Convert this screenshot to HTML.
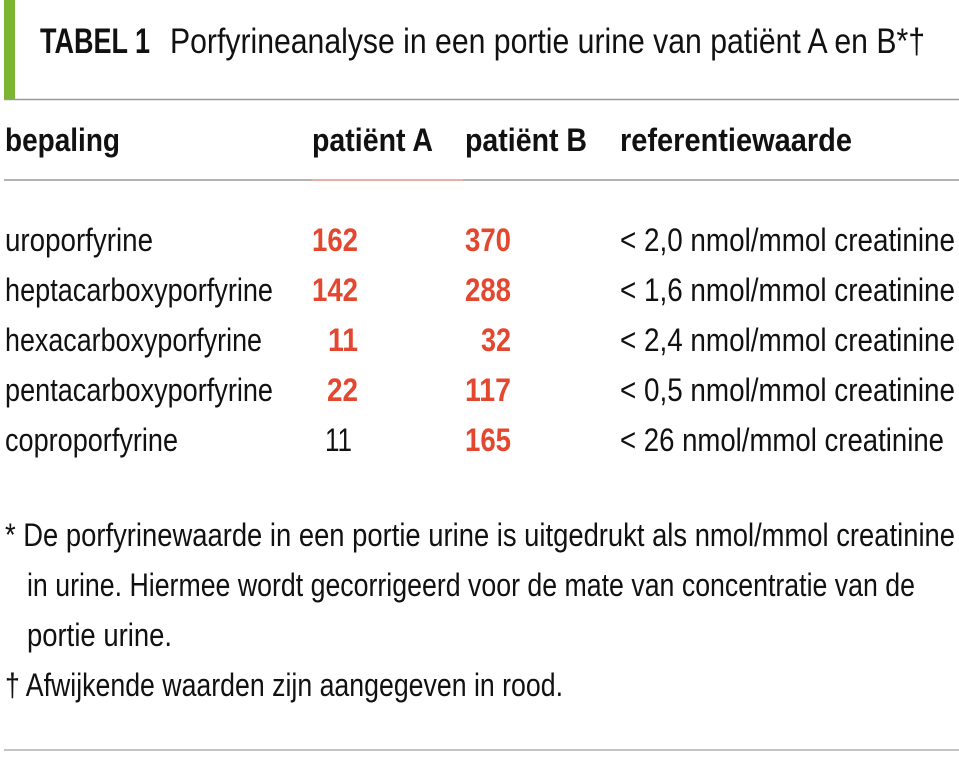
<!DOCTYPE html>
<html><head><meta charset="utf-8"><style>
html,body{margin:0;padding:0;background:#fff;width:959px;height:764px;overflow:hidden}
svg{display:block}
text{font-family:"Liberation Sans Narrow","Liberation Sans",sans-serif;font-size:32px;fill:#111}
.b{font-weight:bold}
.r{fill:#e4472f;font-weight:bold}
</style></head><body>
<svg width="959" height="764" viewBox="0 0 959 764" xmlns="http://www.w3.org/2000/svg">
<rect x="4" y="0" width="11" height="100" fill="#7cb531"/>
<line x1="4" y1="99.5" x2="959" y2="99.5" stroke="#9a9a9a" stroke-width="1.5"/>
<line x1="4" y1="180" x2="959" y2="180" stroke="#9a9a9a" stroke-width="1.5"/>
<line x1="312" y1="180" x2="463" y2="180" stroke="#f3a39a" stroke-width="1.5"/>
<line x1="4" y1="750" x2="959" y2="750" stroke="#b0b0b0" stroke-width="1.5"/>
<text x="40" y="53" class="b" style="font-size:35px" textLength="110" lengthAdjust="spacingAndGlyphs">TABEL 1</text>
<text x="170" y="53" style="font-size:35px" textLength="755" lengthAdjust="spacingAndGlyphs">Porfyrineanalyse in een portie urine van patiënt A en B*†</text>
<text x="5" y="151" class="b" textLength="115" lengthAdjust="spacingAndGlyphs">bepaling</text>
<text x="312" y="151" class="b" textLength="121" lengthAdjust="spacingAndGlyphs">patiënt A</text>
<text x="465" y="151" class="b" textLength="122" lengthAdjust="spacingAndGlyphs">patiënt B</text>
<text x="620" y="151" class="b" textLength="232" lengthAdjust="spacingAndGlyphs">referentiewaarde</text>

<text x="5" y="251" textLength="148" lengthAdjust="spacingAndGlyphs">uroporfyrine</text>
<text x="5" y="301" textLength="268" lengthAdjust="spacingAndGlyphs">heptacarboxyporfyrine</text>
<text x="5" y="351" textLength="257" lengthAdjust="spacingAndGlyphs">hexacarboxyporfyrine</text>
<text x="5" y="401" textLength="268" lengthAdjust="spacingAndGlyphs">pentacarboxyporfyrine</text>
<text x="5" y="451" textLength="173" lengthAdjust="spacingAndGlyphs">coproporfyrine</text>

<text x="312" y="251" class="r" textLength="46" lengthAdjust="spacingAndGlyphs">162</text>
<text x="312" y="301" class="r" textLength="46" lengthAdjust="spacingAndGlyphs">142</text>
<text x="328" y="351" class="r" textLength="30" lengthAdjust="spacingAndGlyphs">11</text>
<text x="327" y="401" class="r" textLength="31" lengthAdjust="spacingAndGlyphs">22</text>
<text x="325" y="451" textLength="27" lengthAdjust="spacingAndGlyphs">11</text>
<text x="465" y="251" class="r" textLength="46" lengthAdjust="spacingAndGlyphs">370</text>
<text x="465" y="301" class="r" textLength="46" lengthAdjust="spacingAndGlyphs">288</text>
<text x="481" y="351" class="r" textLength="30" lengthAdjust="spacingAndGlyphs">32</text>
<text x="465" y="401" class="r" textLength="46" lengthAdjust="spacingAndGlyphs">117</text>
<text x="465" y="451" class="r" textLength="46" lengthAdjust="spacingAndGlyphs">165</text>

<text x="620" y="251" textLength="335" lengthAdjust="spacingAndGlyphs">&lt; 2,0 nmol/mmol creatinine</text>
<text x="620" y="301" textLength="335" lengthAdjust="spacingAndGlyphs">&lt; 1,6 nmol/mmol creatinine</text>
<text x="620" y="351" textLength="335" lengthAdjust="spacingAndGlyphs">&lt; 2,4 nmol/mmol creatinine</text>
<text x="620" y="401" textLength="335" lengthAdjust="spacingAndGlyphs">&lt; 0,5 nmol/mmol creatinine</text>
<text x="620" y="451" textLength="324" lengthAdjust="spacingAndGlyphs">&lt; 26 nmol/mmol creatinine</text>

<text x="5" y="546" textLength="950" lengthAdjust="spacingAndGlyphs">* De porfyrinewaarde in een portie urine is uitgedrukt als nmol/mmol creatinine</text>
<text x="27" y="596" textLength="888" lengthAdjust="spacingAndGlyphs">in urine. Hiermee wordt gecorrigeerd voor de mate van concentratie van de</text>
<text x="27" y="646" textLength="145" lengthAdjust="spacingAndGlyphs">portie urine.</text>
<text x="5" y="696" textLength="558" lengthAdjust="spacingAndGlyphs">† Afwijkende waarden zijn aangegeven in rood.</text>
</svg>
</body></html>
